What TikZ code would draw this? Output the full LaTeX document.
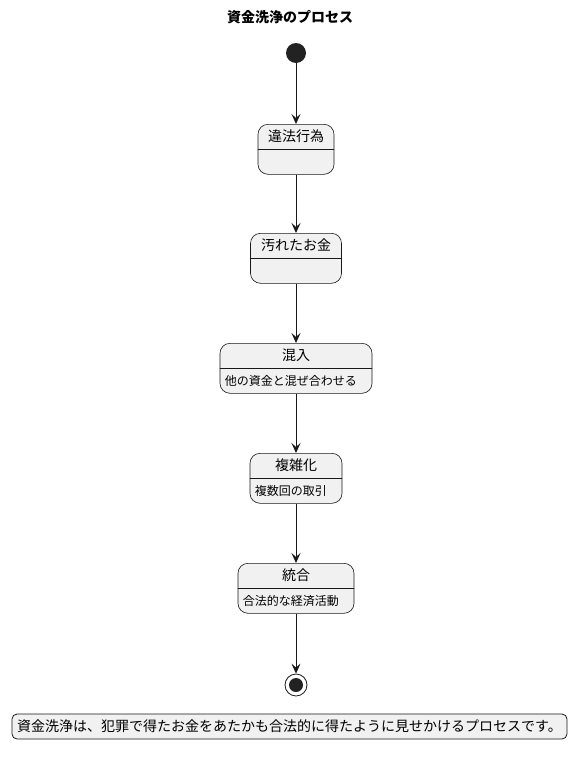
\documentclass[tikz,border=0pt]{standalone}
\usepackage{fontspec}
\setmainfont{Noto Sans CJK JP}
\usepackage{tikz}
\usetikzlibrary{arrows.meta, positioning, calc}
\definecolor{umlfill}{RGB}{241,241,241}
\definecolor{umlline}{RGB}{24,24,24}
\definecolor{umldot}{RGB}{34,34,34}

\tikzset{
  statebox/.style={draw=umlline, fill=umlfill, rounded corners=10pt, line width=0.6pt,
    minimum height=50pt, inner sep=0pt},
  statetitle/.style={font=\fontsize{14}{16}\selectfont, color=black, inner sep=0pt},
  statebody/.style={font=\fontsize{12}{14}\selectfont, color=black, inner sep=0pt},
  flow/.style={draw=umlline, line width=0.8pt, -{Stealth[length=10pt, width=9pt, inset=4pt]}},
}

% name, centre x, top y, width, title, body
\newcommand{\umlstate}[6]{%
  \node[statebox, minimum width=#4pt, anchor=north] (#1) at (#2,#3) {};
  \node[statetitle] (#1-t) at ([yshift=-12pt]#1.north) {#5};
  \draw[umlline, line width=0.5pt] ([yshift=-25pt]#1.north west) -- ([yshift=-25pt]#1.north east);
  \node[statebody, anchor=west] (#1-b) at ([xshift=5pt, yshift=-38pt]#1.north west) {#6};
}

\begin{document}
\begin{tikzpicture}[x=1pt, y=-1pt]
\useasboundingbox (0,0) rectangle (586,758);

% ---- title ----
\node[font=\fontsize{14}{16}\selectfont\bfseries] (title) at (290,17) {資金洗浄のプロセス};

% ---- start ----
\node[circle, fill=umldot, minimum size=20pt, inner sep=0pt] (start) at (296,53) {};

% ---- states ----
\umlstate{illegal}{296}{124}{76}{違法行為}{}
\umlstate{dirty}{296}{233}{91}{汚れたお金}{}
\umlstate{mix}{296}{343}{152}{混入}{他の資金と混ぜ合わせる}
\umlstate{layer}{296}{453}{92}{複雑化}{複数回の取引}
\umlstate{merge}{296}{563}{116}{統合}{合法的な経済活動}

% ---- end ----
\node[circle, draw=umlline, fill=white, line width=0.8pt, minimum size=22pt, inner sep=0pt] (stop) at (296,685) {};
\fill[umldot] (stop.center) circle (7pt);

% ---- flow ----
\draw[flow] (start) -- (illegal.north);
\draw[flow] (illegal.south) -- (dirty.north);
\draw[flow] (dirty.south) -- (mix.north);
\draw[flow] (mix.south) -- (layer.north);
\draw[flow] (layer.south) -- (merge.north);
\draw[flow] (merge.south) -- (stop.north);

% ---- note ----
\node[draw=umlline, fill=umlfill, rounded corners=5pt, line width=0.8pt,
  minimum width=555pt, minimum height=25pt, inner sep=0pt,
  font=\fontsize{14}{16}\selectfont] (note) at (289.5,726.5)
  {資金洗浄は、犯罪で得たお金をあたかも合法的に得たように見せかけるプロセスです。};
\end{tikzpicture}
\end{document}
